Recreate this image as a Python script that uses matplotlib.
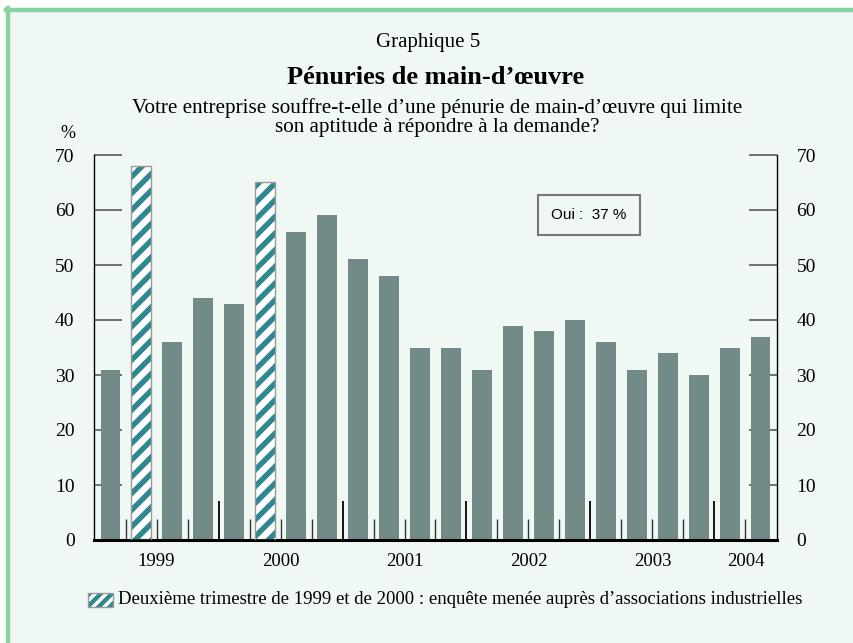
import numpy as np
import matplotlib
matplotlib.use("Agg")
import matplotlib.pyplot as plt
from matplotlib.patches import Rectangle
from matplotlib.lines import Line2D

# donnees trimestrielles 1999T1 - 2004T2
valeurs = [31, 68, 36, 44, 43, 65, 56, 59, 51, 48, 35, 35, 31, 39, 38, 40,
           36, 31, 34, 30, 35, 37]
hachures = [1, 5]  # deuxieme trimestre 1999 et 2000
annees = ["1999", "2000", "2001", "2002", "2003", "2004"]
trim_par_annee = [4, 4, 4, 4, 4, 2]
yticks = [0, 10, 20, 30, 40, 50, 60, 70]

fond = "#f0f8f4"
vert = "#88d3a0"
gris_barre = "#728b88"
sarcelle = "#2f8790"

plt.rcParams["font.family"] = ["Liberation Serif", "DejaVu Serif"]
plt.rcParams["hatch.linewidth"] = 4.6

W, H = 854, 643
fig = plt.figure(figsize=(W / 100, H / 100), dpi=100, facecolor="white")

# cadre de fond
fig.patches.append(Rectangle((6 / W, 0), 1, 1 - 8 / H, transform=fig.transFigure,
                             facecolor=fond, edgecolor="none", zorder=-10))
fig.lines.append(Line2D([6 / W, 1], [1 - 10 / H, 1 - 10 / H], transform=fig.transFigure,
                        color=vert, lw=3.2, zorder=-5))
fig.lines.append(Line2D([8 / W, 8 / W], [0, 1 - 8 / H], transform=fig.transFigure,
                        color=vert, lw=3.2, zorder=-5))

ax = fig.add_axes([94 / W, 1 - 540 / H, 683 / W, 385 / H])
ax.set_facecolor("none")

x = np.arange(len(valeurs))
couleurs = [sarcelle if i in hachures else gris_barre for i in x]
barres = ax.bar(x, valeurs, width=0.62, color=couleurs, edgecolor="none", zorder=2)
for i in hachures:
    barres[i].set_hatch("//")
    barres[i].set_edgecolor("white")
    barres[i].set_linewidth(0)
    ax.bar(x[i], valeurs[i], width=0.62, fill=False, edgecolor="#999999", lw=1, zorder=3)

ax.set_xlim(-0.52, len(valeurs) - 0.48)
ax.set_ylim(0, 70)

ax.spines["top"].set_visible(False)
ax.spines["bottom"].set_linewidth(2.2)
ax.spines["left"].set_linewidth(1.0)
ax.spines["right"].set_linewidth(1.0)

ax.set_yticks(yticks)
ax.tick_params(axis="y", which="both", direction="in", length=20, width=1.3,
               color="#666666", labelsize=14, pad=14, left=True, right=True,
               labelleft=True, labelright=True)

# frontieres entre annees et entre trimestres
bornes = np.cumsum(trim_par_annee)[:-1] - 0.5
ax.set_xticks(bornes)
ax.set_xticklabels([])
ax.set_xticks(x[:-1] + 0.5, minor=True)
ax.tick_params(axis="x", which="major", direction="in", length=28, width=1.3, color="black")
ax.tick_params(axis="x", which="minor", direction="in", length=15, width=1.0, color="#333333")

debut = 0
for a, n in zip(annees, trim_par_annee):
    ax.text(debut + (n - 1) / 2, -0.033, a, transform=ax.get_xaxis_transform(),
            ha="center", va="top", fontsize=13.5)
    debut += n

fig.text(68 / W, 1 - 133 / H, "%", ha="center", va="center", fontsize=13)
fig.text(428 / W, 1 - 43 / H, "Graphique 5", ha="center", va="center", fontsize=15)
fig.text(436 / W, 1 - 77 / H, "Pénuries de main-d\u2019œuvre", ha="center", va="center",
         fontsize=19, fontweight="bold")
fig.text(437 / W, 1 - 118 / H,
         "Votre entreprise souffre-t-elle d\u2019une pénurie de main-d\u2019œuvre qui limite\n"
         "son aptitude à répondre à la demande?",
         ha="center", va="center", fontsize=15.2, linespacing=1.0)

fig.text(589 / W, 1 - 215 / H, "Oui :  37 %", ha="center", va="center", fontsize=11,
         family=["Liberation Sans", "DejaVu Sans"],
         bbox=dict(boxstyle="square,pad=0.85", facecolor="none", edgecolor="#777777", lw=1.5))

# legende
leg = Rectangle((88 / W, 1 - 607 / H), 25 / W, 14 / H, transform=fig.transFigure,
                facecolor=sarcelle, edgecolor="white", hatch="///", lw=0)
if hasattr(leg, "set_hatch_linewidth"):
    leg.set_hatch_linewidth(2.5)
fig.patches.append(leg)
fig.patches.append(Rectangle((88 / W, 1 - 607 / H), 25 / W, 14 / H, transform=fig.transFigure,
                             fill=False, edgecolor="#999999", lw=1))
fig.text(118 / W, 1 - 600 / H,
         "Deuxième trimestre de 1999 et de 2000 : enquête menée auprès d\u2019associations industrielles",
         ha="left", va="center", fontsize=13.5)

fig.savefig("out.png", dpi=100, facecolor=fig.get_facecolor())
